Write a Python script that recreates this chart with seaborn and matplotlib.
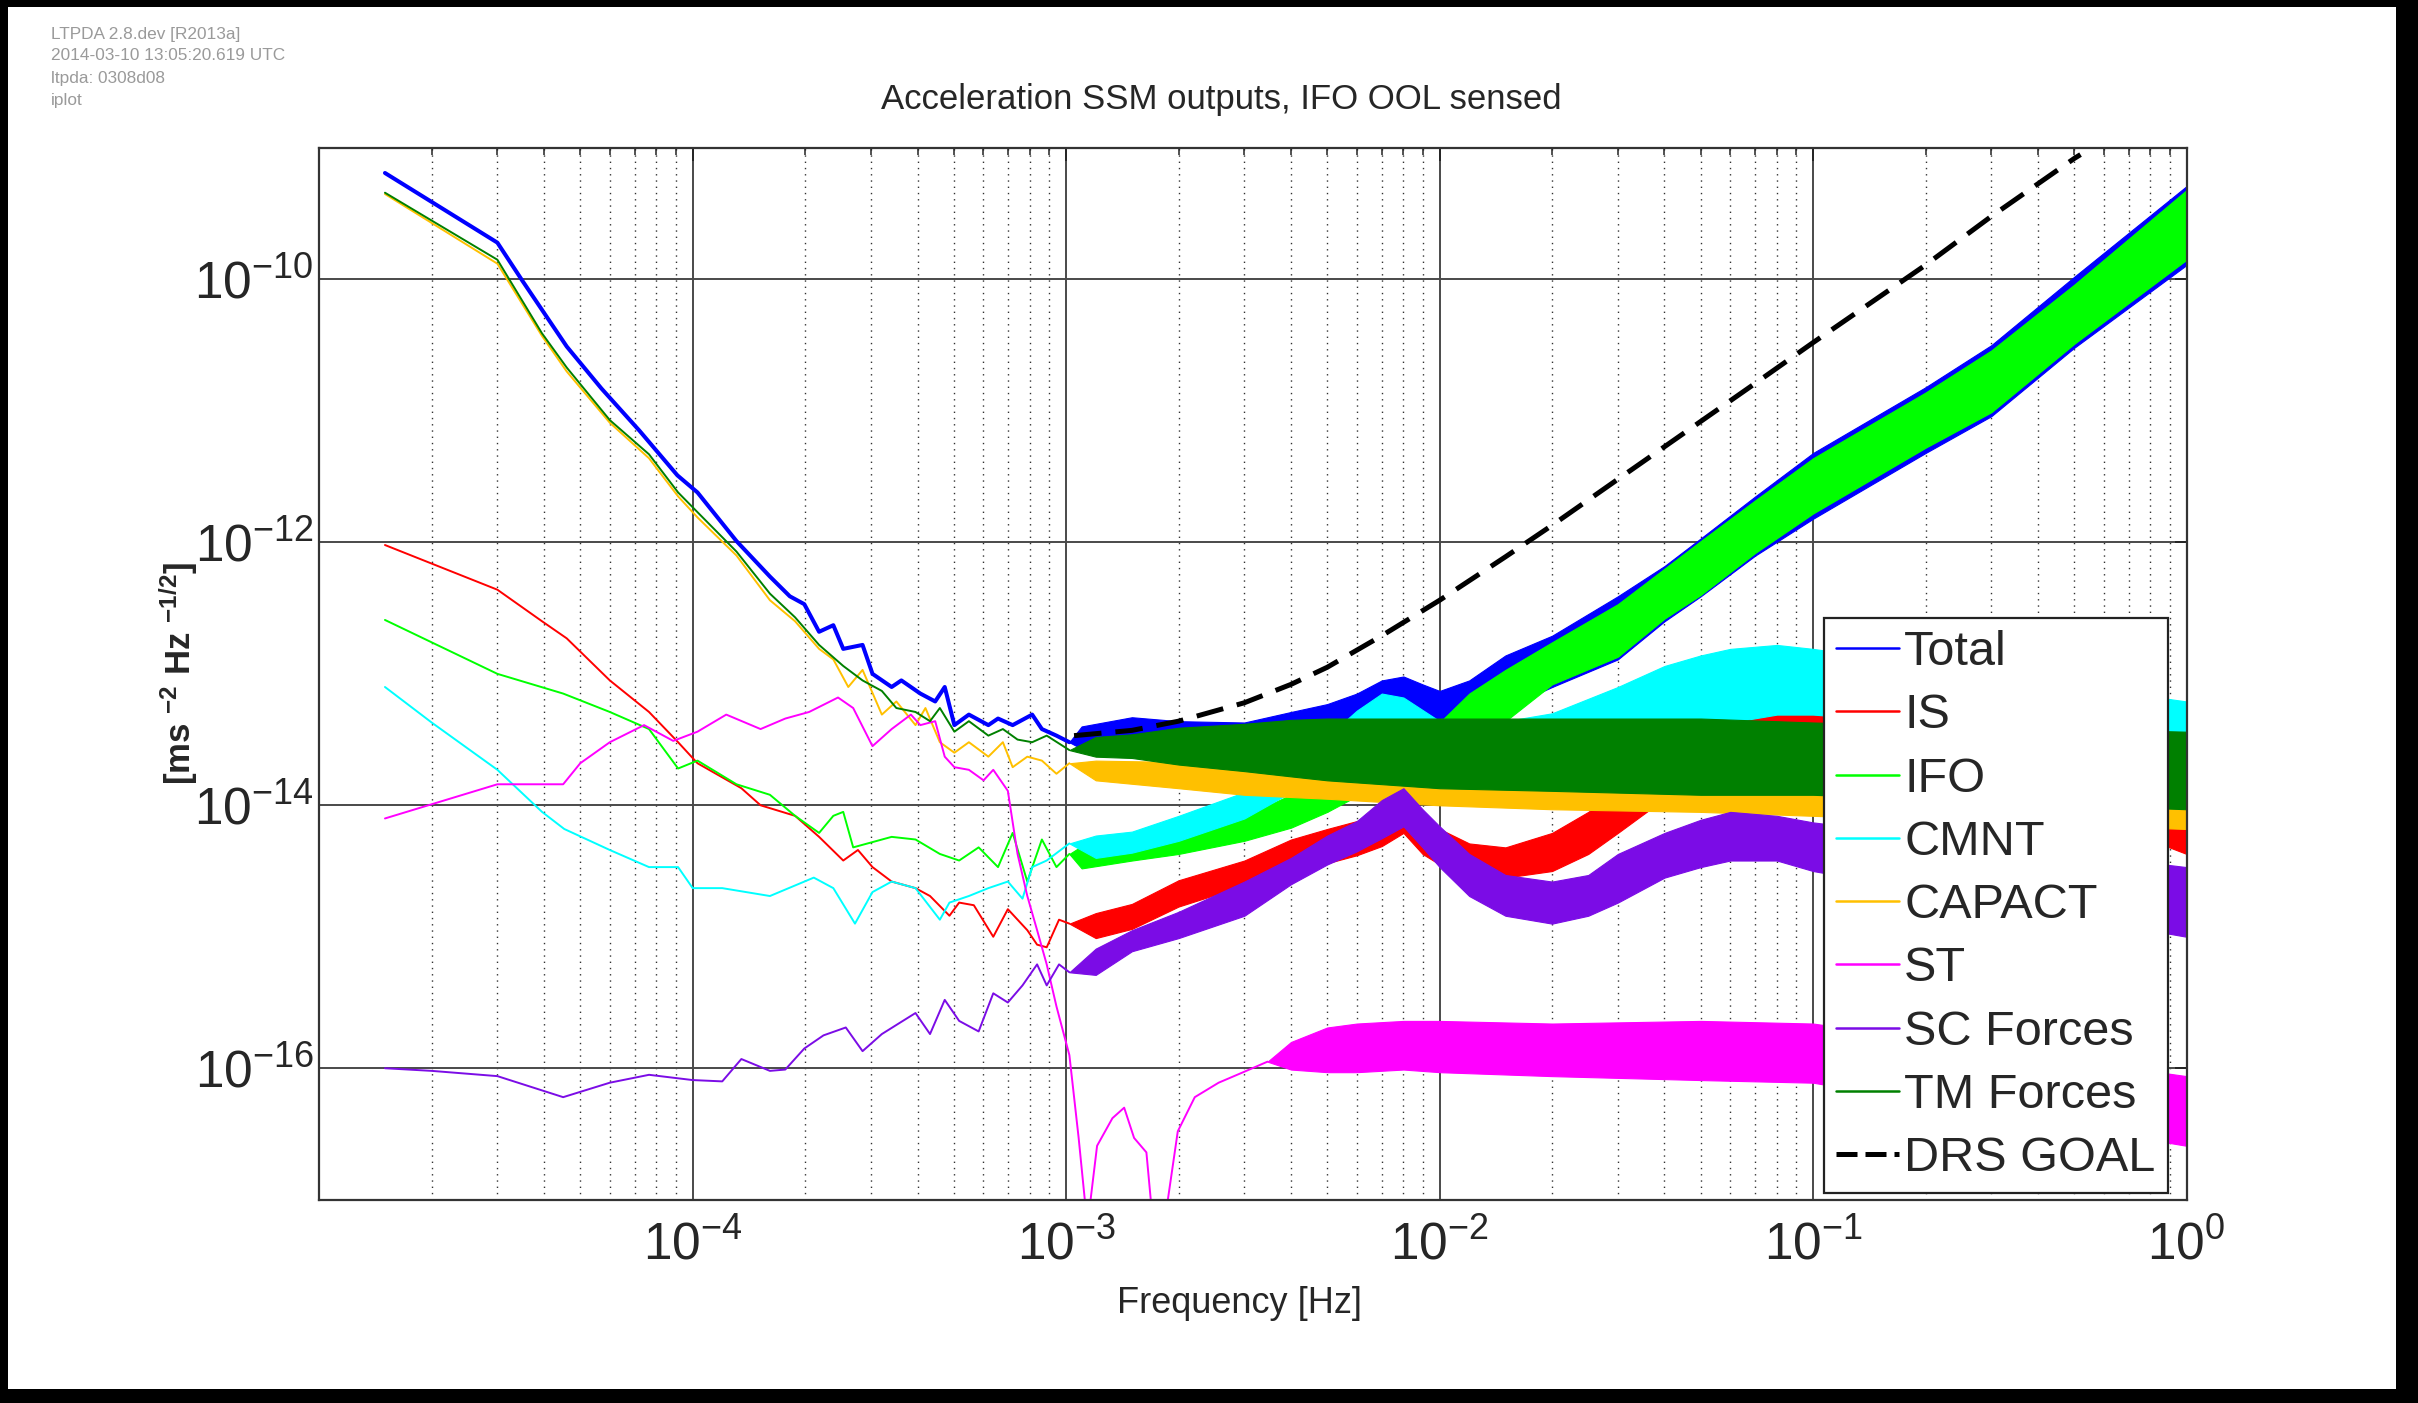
import numpy as np
import matplotlib
matplotlib.use("Agg")
import matplotlib.pyplot as plt
import seaborn as sns
from matplotlib.lines import Line2D
from matplotlib.patches import Rectangle
from matplotlib.ticker import LogLocator, NullLocator, FixedLocator, FixedFormatter

# ---------------- data (frequency in Hz, amplitude as log10 of ASD [m s^-2 Hz^-1/2]) -------------
# thin low-frequency traces ("line") and the dense noisy high-frequency part ("band": lower/upper envelope)
total_line_f = [1.5e-5, 3.0e-5, 3.5e-5, 4.6e-5, 5.7e-5, 7.2e-5, 9.1e-5, 1.03e-4, 1.31e-4, 1.61e-4, 1.82e-4,
                1.99e-4, 2.18e-4, 2.38e-4, 2.53e-4, 2.85e-4, 3.03e-4, 3.41e-4, 3.62e-4, 4.07e-4, 4.46e-4,
                4.73e-4, 5.02e-4, 5.49e-4, 6.19e-4, 6.57e-4, 7.19e-4, 8.11e-4, 8.61e-4, 9.42e-4, 1.02e-3]
total_line_a = [-9.19, -9.72, -10.01, -10.51, -10.83, -11.15, -11.49, -11.62, -11.99, -12.26, -12.41,
                -12.47, -12.68, -12.63, -12.81, -12.78, -13.00, -13.10, -13.05, -13.15, -13.21,
                -13.10, -13.39, -13.31, -13.39, -13.34, -13.39, -13.31, -13.42, -13.47, -13.52]
total_band_f = [1.1e-3, 1.5e-3, 2e-3, 3e-3, 4e-3, 5e-3, 6e-3, 7e-3, 8e-3, 9e-3, 1e-2, 1.2e-2, 1.5e-2,
                2e-2, 3e-2, 4e-2, 5e-2, 7e-2, 0.1, 0.2, 0.3, 0.5, 1.0]
total_band_hi = [-13.40, -13.33, -13.36, -13.37, -13.29, -13.23, -13.15, -13.05, -13.02, -13.08, -13.13,
                 -13.05, -12.86, -12.71, -12.41, -12.18, -11.97, -11.65, -11.32, -10.82, -10.50, -9.98, -9.29]
total_band_lo = [-13.57, -13.54, -13.53, -13.55, -13.52, -13.47, -13.42, -13.37, -13.34, -13.34, -13.34,
                 -13.31, -13.26, -13.10, -12.89, -12.60, -12.41, -12.10, -11.82, -11.32, -11.04, -10.52, -9.89]

is_line_f = [1.5e-5, 3e-5, 3.95e-5, 4.6e-5, 6e-5, 7.64e-5, 9.14e-5, 1.03e-4, 1.35e-4, 1.52e-4, 1.88e-4,
             2.18e-4, 2.53e-4, 2.77e-4, 3.03e-4, 3.41e-4, 3.95e-4, 4.32e-4, 4.87e-4, 5.17e-4, 5.66e-4,
             6.38e-4, 6.98e-4, 7.87e-4, 8.36e-4, 8.87e-4, 9.57e-4, 1.02e-3]
is_line_a = [-12.02, -12.36, -12.60, -12.73, -13.05, -13.29, -13.52, -13.68, -13.87, -14.00, -14.08,
             -14.24, -14.42, -14.34, -14.47, -14.58, -14.63, -14.69, -14.84, -14.74, -14.76,
             -15.00, -14.79, -14.95, -15.06, -15.08, -14.87, -14.90]
is_band_f = [1.2e-3, 1.5e-3, 2e-3, 3e-3, 4e-3, 5e-3, 6e-3, 7e-3, 8e-3, 9e-3, 1e-2, 1.2e-2, 1.5e-2, 2e-2,
             2.5e-2, 3e-2, 4e-2, 5e-2, 6e-2, 7e-2, 8e-2, 0.1, 0.9, 1.0]
is_band_hi = [-14.82, -14.75, -14.57, -14.42, -14.26, -14.18, -14.12, -14.06, -14.00, -14.11, -14.18,
              -14.29, -14.32, -14.21, -14.05, -13.89, -13.58, -13.31, -13.23, -13.21, -13.21, -13.23,
              -14.03, -14.08]
is_band_lo = [-15.01, -14.94, -14.77, -14.61, -14.50, -14.44, -14.38, -14.31, -14.21, -14.37, -14.45,
              -14.53, -14.55, -14.50, -14.37, -14.21, -13.95, -13.66, -13.58, -13.55, -13.52, -13.55,
              -14.32, -14.37]

ifo_line_f = [1.5e-5, 3e-5, 4.5e-5, 6e-5, 7.64e-5, 9.14e-5, 1.03e-4, 1.31e-4, 1.61e-4, 1.88e-4, 2.18e-4,
              2.38e-4, 2.53e-4, 2.69e-4, 3.41e-4, 3.95e-4, 4.59e-4, 5.17e-4, 5.83e-4, 6.57e-4, 7.19e-4,
              7.87e-4, 8.61e-4, 9.42e-4, 1.02e-3]
ifo_line_a = [-12.59, -13.00, -13.15, -13.29, -13.42, -13.72, -13.66, -13.84, -13.92, -14.08, -14.21,
              -14.08, -14.05, -14.32, -14.24, -14.26, -14.37, -14.42, -14.32, -14.47, -14.21,
              -14.58, -14.26, -14.47, -14.37]
ifo_band_f = [1.1e-3, 1.5e-3, 2e-3, 3e-3, 4e-3, 5e-3, 6e-3, 8e-3, 1e-2, 1.2e-2, 1.5e-2, 2e-2, 3e-2,
              4e-2, 5e-2, 7e-2, 0.1, 0.2, 0.3, 0.5, 1.0]
ifo_band_hi = [-14.31, -14.26, -14.21, -14.08, -13.92, -13.76, -13.62, -13.52, -13.37, -13.15, -12.97,
               -12.76, -12.47, -12.20, -11.99, -11.68, -11.36, -10.86, -10.54, -10.04, -9.32]
ifo_band_lo = [-14.48, -14.42, -14.37, -14.27, -14.17, -14.05, -13.93, -13.84, -13.68, -13.52, -13.36,
               -13.08, -12.87, -12.58, -12.40, -12.08, -11.78, -11.28, -11.01, -10.49, -9.85]

cmnt_line_f = [1.5e-5, 2e-5, 3e-5, 3.95e-5, 4.53e-5, 6e-5, 7.64e-5, 9.14e-5, 1.0e-4, 1.2e-4, 1.61e-4,
               2.11e-4, 2.38e-4, 2.72e-4, 3.03e-4, 3.41e-4, 3.95e-4, 4.59e-4, 4.87e-4, 5.49e-4, 6.19e-4,
               6.98e-4, 7.64e-4, 8.11e-4, 8.87e-4, 1.02e-3]
cmnt_line_a = [-13.10, -13.37, -13.73, -14.05, -14.18, -14.34, -14.47, -14.47, -14.63, -14.63, -14.69,
               -14.55, -14.63, -14.90, -14.66, -14.58, -14.63, -14.87, -14.74, -14.69, -14.63,
               -14.58, -14.71, -14.47, -14.42, -14.29]
cmnt_band_f = [1.2e-3, 1.5e-3, 2e-3, 3e-3, 4e-3, 5e-3, 6e-3, 7e-3, 8e-3, 1e-2, 1.5e-2, 2e-2, 3e-2,
               4e-2, 5e-2, 6e-2, 8e-2, 0.1, 1.0]
cmnt_band_hi = [-14.23, -14.20, -14.08, -13.90, -13.68, -13.48, -13.28, -13.15, -13.18, -13.36, -13.36,
                -13.30, -13.10, -12.94, -12.86, -12.81, -12.78, -12.81, -13.21]
cmnt_band_lo = [-14.40, -14.36, -14.27, -14.10, -13.90, -13.72, -13.56, -13.47, -13.47, -13.62, -13.60,
                -13.58, -13.47, -13.42, -13.37, -13.37, -13.31, -13.31, -13.52]

capact_line_f = [1.5e-5, 3e-5, 3.95e-5, 4.6e-5, 6e-5, 7.64e-5, 9.14e-5, 1.03e-4, 1.31e-4, 1.61e-4,
                 1.88e-4, 2.18e-4, 2.38e-4, 2.61e-4, 2.85e-4, 3.21e-4, 3.51e-4, 3.95e-4, 4.2e-4, 4.59e-4,
                 5.02e-4, 5.49e-4, 6.19e-4, 6.77e-4, 7.19e-4, 7.87e-4, 8.61e-4, 9.42e-4, 1.02e-3]
capact_line_a = [-9.35, -9.88, -10.43, -10.70, -11.09, -11.36, -11.65, -11.81, -12.10, -12.44,
                 -12.60, -12.81, -12.89, -13.10, -12.97, -13.31, -13.21, -13.39, -13.26, -13.52,
                 -13.60, -13.52, -13.63, -13.52, -13.71, -13.63, -13.66, -13.76, -13.68]
capact_band_f = [1.2e-3, 2e-3, 3e-3, 5e-3, 1e-2, 2e-2, 5e-2, 0.1, 1.0]
capact_band_hi = [-13.66, -13.67, -13.66, -13.63, -13.60, -13.60, -13.63, -13.63, -13.66]
capact_band_lo = [-13.81, -13.87, -13.92, -13.95, -14.00, -14.03, -14.05, -14.08, -14.18]

st_line_f = [1.5e-5, 3e-5, 4.5e-5, 5e-5, 6e-5, 7.41e-5, 8.87e-5, 1.03e-4, 1.23e-4, 1.52e-4, 1.77e-4,
             2.05e-4, 2.45e-4, 2.69e-4, 3.03e-4, 3.41e-4, 3.84e-4, 4.07e-4, 4.46e-4, 4.73e-4, 5.02e-4,
             5.49e-4, 6.01e-4, 6.38e-4, 6.98e-4, 7.41e-4, 7.87e-4, 8.36e-4, 8.87e-4, 9.42e-4, 1.02e-3,
             1.08e-3, 1.14e-3, 1.21e-3, 1.33e-3, 1.43e-3, 1.52e-3, 1.64e-3, 1.71e-3, 1.85e-3, 1.99e-3,
             2.21e-3, 2.56e-3, 2.98e-3, 3.46e-3]
st_line_a = [-14.10, -13.84, -13.84, -13.68, -13.52, -13.39, -13.51, -13.44, -13.31, -13.42, -13.34,
             -13.29, -13.18, -13.26, -13.55, -13.42, -13.31, -13.39, -13.36, -13.63, -13.71,
             -13.73, -13.81, -13.73, -13.89, -14.37, -14.69, -14.95, -15.21, -15.53, -15.90,
             -16.53, -17.20, -16.59, -16.38, -16.30, -16.53, -16.64, -17.20, -17.10, -16.48,
             -16.22, -16.11, -16.03, -15.95]
st_band_f = [4e-3, 5e-3, 6e-3, 8e-3, 1e-2, 2e-2, 5e-2, 0.1, 1.0]
st_band_hi = [-15.80, -15.69, -15.66, -15.64, -15.64, -15.66, -15.64, -15.66, -16.06]
st_band_lo = [-16.01, -16.03, -16.03, -16.01, -16.03, -16.06, -16.09, -16.11, -16.59]

sc_line_f = [1.5e-5, 2e-5, 3e-5, 4.5e-5, 6e-5, 7.64e-5, 1.0e-4, 1.2e-4, 1.35e-4, 1.61e-4, 1.77e-4,
             1.99e-4, 2.24e-4, 2.57e-4, 2.85e-4, 3.21e-4, 3.56e-4, 3.95e-4, 4.32e-4, 4.73e-4, 5.17e-4,
             5.83e-4, 6.38e-4, 6.98e-4, 7.64e-4, 8.36e-4, 8.87e-4, 9.57e-4, 1.02e-3]
sc_line_a = [-16.00, -16.02, -16.06, -16.22, -16.11, -16.05, -16.09, -16.10, -15.93, -16.02, -16.01,
             -15.85, -15.75, -15.69, -15.87, -15.74, -15.66, -15.58, -15.74, -15.48, -15.64,
             -15.72, -15.43, -15.50, -15.37, -15.21, -15.37, -15.21, -15.27]
sc_band_f = [1.2e-3, 1.5e-3, 2e-3, 3e-3, 4e-3, 5e-3, 6e-3, 7e-3, 8e-3, 9e-3, 1e-2, 1.2e-2, 1.5e-2,
             2e-2, 2.5e-2, 3e-2, 4e-2, 5e-2, 6e-2, 8e-2, 0.1, 1.0]
sc_band_hi = [-15.09, -14.95, -14.81, -14.58, -14.40, -14.23, -14.12, -13.96, -13.87, -14.03, -14.16,
              -14.37, -14.53, -14.58, -14.53, -14.37, -14.21, -14.11, -14.05, -14.08, -14.13, -14.47]
sc_band_lo = [-15.29, -15.11, -15.01, -14.84, -14.60, -14.45, -14.35, -14.25, -14.16, -14.32, -14.47,
              -14.69, -14.84, -14.90, -14.84, -14.74, -14.55, -14.47, -14.42, -14.42, -14.50, -15.00]

tm_line_f = [1.5e-5, 3e-5, 3.95e-5, 4.6e-5, 6e-5, 7.64e-5, 9.14e-5, 1.03e-4, 1.31e-4, 1.61e-4, 1.88e-4,
             2.18e-4, 2.53e-4, 2.85e-4, 3.21e-4, 3.51e-4, 3.95e-4, 4.32e-4, 4.59e-4, 5.02e-4, 5.49e-4,
             6.19e-4, 6.77e-4, 7.41e-4, 8.11e-4, 8.87e-4, 1.02e-3]
tm_line_a = [-9.34, -9.85, -10.41, -10.67, -11.07, -11.33, -11.62, -11.77, -12.07, -12.39, -12.57,
             -12.78, -12.94, -13.05, -13.13, -13.26, -13.29, -13.36, -13.26, -13.44, -13.36,
             -13.47, -13.42, -13.50, -13.52, -13.47, -13.58]
tm_band_f = [1.2e-3, 1.5e-3, 2e-3, 3e-3, 4e-3, 5e-3, 1e-2, 2e-2, 5e-2, 0.1, 1.0]
tm_band_hi = [-13.48, -13.46, -13.41, -13.38, -13.35, -13.34, -13.34, -13.34, -13.34, -13.37, -13.44]
tm_band_lo = [-13.63, -13.64, -13.69, -13.74, -13.78, -13.81, -13.87, -13.89, -13.92, -13.92, -14.03]

drs_f = [1.05e-3, 1.5e-3, 2e-3, 3e-3, 4e-3, 5e-3, 7e-3, 1e-2, 1.5e-2, 2e-2, 3e-2, 5e-2, 7e-2, 0.1,
         0.2, 0.3, 0.5, 0.52]
drs_a = [-13.47, -13.43, -13.36, -13.22, -13.08, -12.95, -12.71, -12.44, -12.11, -11.87, -11.52,
         -11.08, -10.79, -10.48, -9.89, -9.52, -9.08, -9.05]

labels = ["Total", "IS", "IFO", "CMNT", "CAPACT", "ST", "SC Forces", "TM Forces", "DRS GOAL"]
colors = ["#0000FF", "#FF0000", "#00FF00", "#00FFFF", "#FFC000", "#FF00FF", "#7B0CE6", "#008000", "#000000"]

x_ticks = [1e-4, 1e-3, 1e-2, 1e-1, 1e0]
x_tick_labels = [r"$10^{-4}$", r"$10^{-3}$", r"$10^{-2}$", r"$10^{-1}$", r"$10^{0}$"]
y_ticks = [1e-16, 1e-14, 1e-12, 1e-10]
y_tick_labels = [r"$10^{-16}$", r"$10^{-14}$", r"$10^{-12}$", r"$10^{-10}$"]

# ---------------- style ----------------
sns.set_style("white")
plt.rcParams["font.family"] = ["Liberation Sans", "DejaVu Sans"]
plt.rcParams["mathtext.fontset"] = "custom"
plt.rcParams["mathtext.rm"] = "Liberation Sans"
plt.rcParams["mathtext.it"] = "Liberation Sans:italic"
plt.rcParams["mathtext.bf"] = "Liberation Sans:bold"
plt.rcParams["mathtext.sf"] = "Liberation Sans"

W, H = 2418, 1403
fig = plt.figure(figsize=(W / 100, H / 100), dpi=100)
fig.patch.set_facecolor("white")
ax = fig.add_axes([319.2 / W, 1 - 1199.7 / H, (2186.6 - 319.2) / W, (1199.7 - 148.0) / H])
ax.set_xscale("log")
ax.set_yscale("log")

series = [
    (total_line_f, total_line_a, total_band_f, total_band_lo, total_band_hi, 2.9),
    (is_line_f, is_line_a, is_band_f, is_band_lo, is_band_hi, 1.4),
    (ifo_line_f, ifo_line_a, ifo_band_f, ifo_band_lo, ifo_band_hi, 1.4),
    (cmnt_line_f, cmnt_line_a, cmnt_band_f, cmnt_band_lo, cmnt_band_hi, 1.4),
    (capact_line_f, capact_line_a, capact_band_f, capact_band_lo, capact_band_hi, 1.4),
    (st_line_f, st_line_a, st_band_f, st_band_lo, st_band_hi, 1.4),
    (sc_line_f, sc_line_a, sc_band_f, sc_band_lo, sc_band_hi, 1.4),
    (tm_line_f, tm_line_a, tm_band_f, tm_band_lo, tm_band_hi, 1.4),
]

for i, (lf, la, bf, blo, bhi, lw) in enumerate(series):
    c = colors[i]
    z = 3 + i
    sns.lineplot(x=np.array(lf), y=10.0 ** np.array(la), ax=ax, color=c, linewidth=lw,
                 estimator=None, sort=False, legend=False, zorder=z)
    bx = np.array([lf[-1]] + bf)
    ylo = 10.0 ** np.array([la[-1]] + blo)
    yhi = 10.0 ** np.array([la[-1]] + bhi)
    ax.fill_between(bx, ylo, yhi, color=c, linewidth=0.8, edgecolor=c, zorder=z)

sns.lineplot(x=np.array(drs_f), y=10.0 ** np.array(drs_a), ax=ax, color="k", linewidth=3.6,
             linestyle=(0, (5.5, 2.8)), estimator=None, sort=False, legend=False, zorder=20)

ax.set_xlim(1e-5, 1.0)
ax.set_ylim(1e-17, 1e-9)

ax.xaxis.set_major_locator(FixedLocator(x_ticks))
ax.xaxis.set_major_formatter(FixedFormatter(x_tick_labels))
ax.xaxis.set_minor_locator(LogLocator(base=10, subs=np.arange(2, 10), numticks=20))
ax.yaxis.set_major_locator(FixedLocator(y_ticks))
ax.yaxis.set_major_formatter(FixedFormatter(y_tick_labels))
ax.yaxis.set_minor_locator(NullLocator())

ax.tick_params(which="major", direction="in", length=9, width=1.3, top=True, right=True,
               labelsize=37, color="#222222")
ax.tick_params(which="minor", direction="in", length=5, width=1.1, top=True, right=True, color="#222222")
ax.tick_params(axis="x", which="major", pad=15)
ax.tick_params(axis="y", which="major", pad=4)

ax.set_axisbelow(True)
ax.grid(which="major", axis="both", color="#4a4a4a", linewidth=1.4, linestyle="-")
ax.grid(which="minor", axis="x", color="#333333", linewidth=1.0, linestyle=(0, (1, 3.5)))
for s in ax.spines.values():
    s.set_color("#333333")
    s.set_linewidth(1.6)
    s.set_zorder(30)

ax.set_xlabel("Frequency [Hz]", fontsize=26)
ax.xaxis.set_label_coords(0.493, -0.082)
ax.set_ylabel(r"[ms $^{\mathbf{-2}}$ Hz $^{\mathbf{-1/2}}$]", fontsize=25, fontweight="bold")
ax.yaxis.set_label_coords(-0.064, 0.5)

fig.text(1221 / W, 1 - 99 / H, "Acceleration SSM outputs, IFO OOL sensed", fontsize=25,
         ha="center", va="center")

meta = ["LTPDA 2.8.dev [R2013a]", "2014-03-10 13:05:20.619 UTC", "ltpda: 0308d08", "iplot"]
for k, t in enumerate(meta):
    fig.text(51 / W, 1 - (34 + 22 * k) / H, t, fontsize=12.4, color="#9a9a9a", ha="left", va="center")

handles = [Line2D([], [], color=c, linewidth=1.8) for c in colors[:-1]]
handles.append(Line2D([], [], color="k", linewidth=3.6, linestyle=(0, (4.2, 1.6))))
leg = ax.legend(handles, labels, loc="upper left", bbox_to_anchor=(0.8058, 0.5531), borderaxespad=0,
                fontsize=35, labelspacing=0.375, handlelength=1.3, handletextpad=0.1, borderpad=0.25,
                frameon=True, fancybox=False, framealpha=1, edgecolor="#222222", facecolor="white")
leg.get_frame().set_linewidth(1.6)
leg.set_zorder(40)

# black border of the original screenshot
for (x0, y0, w, h) in [(0, 0, W, 7), (0, 0, 8, H), (W - 22, 0, 22, H), (0, H - 14, W, 14)]:
    fig.add_artist(Rectangle((x0 / W, 1 - (y0 + h) / H), w / W, h / H, transform=fig.transFigure,
                             facecolor="black", edgecolor="none", zorder=100))

fig.savefig("out.png", dpi=100, facecolor="white")
